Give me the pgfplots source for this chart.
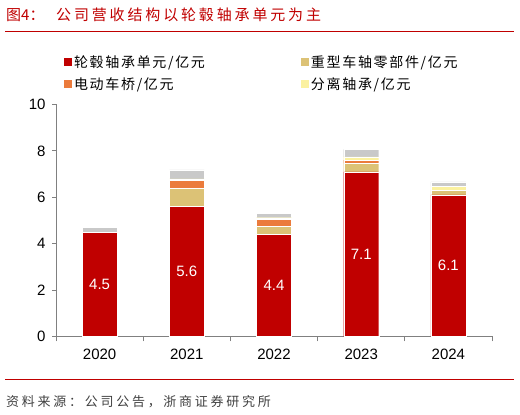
\documentclass[border=0pt]{standalone}
\usepackage{fontspec}
\setmainfont{Liberation Sans}
\newfontfamily\cjk{Noto Sans CJK SC}
\newfontfamily\cjktitle[LetterSpace=19]{Noto Sans CJK SC}
\newfontfamily\cjkleg[LetterSpace=12]{Noto Sans CJK SC}
\newfontfamily\cjksrc[LetterSpace=21]{Noto Sans CJK SC}
\usepackage{pgfplots}
\pgfplotsset{compat=1.18}

\definecolor{cRed}{HTML}{C00000}
\definecolor{cTan}{HTML}{DCC276}
\definecolor{cOrange}{HTML}{EB7B3C}
\definecolor{cYellow}{HTML}{FBF1A0}
\definecolor{cGray}{HTML}{C9C9C9}
\definecolor{axisgray}{HTML}{808080}
\definecolor{srcgray}{HTML}{404040}

\begin{document}
\begin{tikzpicture}[x=1pt,y=1pt]
\useasboundingbox (0,0) rectangle (520,415);

% title and rules
\node[anchor=west, inner sep=0pt, text=cRed, font=\cjk\fontsize{15}{15}\selectfont] at (6,400) {图4：};
\node[anchor=west, inner sep=0pt, text=cRed, font=\cjktitle\fontsize{15}{15}\selectfont] at (56,400) {公司营收结构以轮毂轴承单元为主};
\draw[cRed, line width=1pt] (5,383.3) -- (514,383.3);
\draw[cRed, line width=1pt] (5,35) -- (514,35);
\node[anchor=west, inner sep=0pt, text=srcgray, font=\cjksrc\fontsize{13}{13}\selectfont] at (6,13.3) {资料来源：公司公告，浙商证券研究所};

\begin{axis}[
    at={(56pt,78.5pt)}, anchor=south west,
    scale only axis,
    width=436pt, height=232pt,
    ybar stacked,
    bar width=35pt,
    xmin=-0.5, xmax=4.5,
    ymin=0, ymax=10,
    ytick={0,2,...,10},
    xtick={0,...,4},
    xticklabels={2020,2021,2022,2023,2024},
    minor xtick={-0.5,0.5,...,4.5},
    axis x line*=bottom,
    axis y line*=left,
    axis line style={draw=axisgray, line width=0.8pt},
    tick align=outside,
    major tick length=4pt,
    minor tick length=5pt,
    xtick style={draw=none},
    minor x tick style={draw=axisgray, line width=0.8pt},
    ytick style={draw=axisgray, line width=0.8pt},
    tick label style={font=\fontsize{15}{15}\selectfont},
    yticklabel style={xshift=-3pt},
    xticklabel style={yshift=-5pt},
    /pgf/number format/assume math mode=true,
    legend columns=2,
    legend cell align=left,
    legend style={
        draw=none, fill=none, inner sep=0pt,
        at={(axis description cs:0.018,1.222)}, anchor=north west,
        font=\cjkleg\fontsize{14}{14}\selectfont,
        row sep=5pt,
        /tikz/column 2/.style={column sep=94pt},
    },
    legend image code/.code={\path[#1,draw=none] (0pt,-4pt) rectangle (8pt,4pt);},
]
\addplot[fill=cRed, draw=white, line width=0.4pt,
    nodes near coords={\pgfmathprintnumber[fixed,fixed zerofill,precision=1]{\pgfplotspointmeta}},
    point meta=y,
    every node near coord/.append style={anchor=center, text=white,
        font=\fontsize{15}{15}\selectfont},
] coordinates {
    (0,4.5)  % 2020
    (1,5.6)  % 2021
    (2,4.4)  % 2022
    (3,7.1)  % 2023
    (4,6.1)  % 2024
};
\addlegendentry{轮毂轴承单元/亿元}
\addplot[fill=cTan, draw=white, line width=0.4pt] coordinates {
    (0,0) (1,0.80) (2,0.36) (3,0.37) (4,0.20)
};
\addlegendentry{重型车轴零部件/亿元}
\addplot[fill=cOrange, draw=white, line width=0.4pt] coordinates {
    (0,0) (1,0.32) (2,0.29) (3,0.13) (4,0)
};
\addlegendentry{电动车桥/亿元}
\addplot[fill=cYellow, draw=white, line width=0.4pt] coordinates {
    (0,0) (1,0.07) (2,0.07) (3,0.14) (4,0.16)
};
\addlegendentry{分离轴承/亿元}
\addplot[fill=cGray, draw=white, line width=0.4pt, forget plot] coordinates {
    (0,0.20) (1,0.39) (2,0.19) (3,0.33) (4,0.20)
};
\end{axis}
\end{tikzpicture}
\end{document}
